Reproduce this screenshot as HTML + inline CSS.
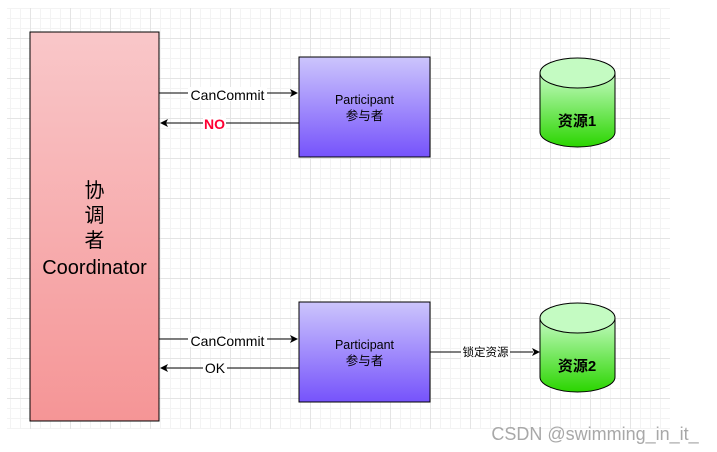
<!DOCTYPE html><html><head><meta charset="utf-8"><style>
body{margin:0;width:717px;height:452px;background:#fff;overflow:hidden;font-family:"Liberation Sans","Noto Sans CJK SC",sans-serif}
.grid{position:absolute;left:7px;top:8px;width:663px;height:421px;
background-image:linear-gradient(#e4e4e4 1px,transparent 1px),linear-gradient(90deg,#e4e4e4 1px,transparent 1px),linear-gradient(#f3f3f3 1px,transparent 1px),linear-gradient(90deg,#f3f3f3 1px,transparent 1px);
background-size:40px 40px,40px 40px,10px 10px,10px 10px;background-position:0 30px,23px 0,0 0,3px 0}
</style></head><body>
<div class="grid"></div>
<svg width="717" height="452" style="position:absolute;left:0;top:0" font-family="Liberation Sans, Noto Sans CJK SC, sans-serif">
<defs>
<linearGradient id="r" x1="0" y1="0" x2="0" y2="1"><stop offset="0" stop-color="#f9c7c9"/><stop offset="1" stop-color="#f59596"/></linearGradient>
<linearGradient id="b" x1="0" y1="0" x2="0" y2="1"><stop offset="0" stop-color="#ccc5fc"/><stop offset="1" stop-color="#7653fb"/></linearGradient>
<linearGradient id="g" x1="0" y1="0" x2="0" y2="1"><stop offset="0" stop-color="#c4fbc2"/><stop offset="1" stop-color="#2bd500"/></linearGradient>
</defs>
<rect x="30" y="32" width="129" height="389" fill="url(#r)" stroke="#000"/>
<text x="94.5" y="197" font-size="20" text-anchor="middle">协</text>
<text x="94.5" y="222" font-size="20" text-anchor="middle">调</text>
<text x="94.5" y="247" font-size="20" text-anchor="middle">者</text>
<text x="94.5" y="274" font-size="20" text-anchor="middle">Coordinator</text>
<g>
<rect x="299" y="57" width="131" height="100" fill="url(#b)" stroke="#000"/>
<text x="364.5" y="104" font-size="12.5" text-anchor="middle">Participant</text>
<text x="364.5" y="120" font-size="12.5" text-anchor="middle">参与者</text>
<rect x="299" y="302" width="131" height="100" fill="url(#b)" stroke="#000"/>
<text x="364.5" y="349" font-size="12.5" text-anchor="middle">Participant</text>
<text x="364.5" y="365" font-size="12.5" text-anchor="middle">参与者</text>
</g>
<g stroke="#000">
<path d="M540,73 V132 A37.5,15 0 0 0 615,132 V73" fill="url(#g)"/>
<ellipse cx="577.5" cy="73" rx="37.5" ry="15" fill="#c4fbc2"/>
<path d="M540,318 V377 A37.5,15 0 0 0 615,377 V318" fill="url(#g)"/>
<ellipse cx="577.5" cy="318" rx="37.5" ry="15" fill="#c4fbc2"/>
</g>
<text x="577" y="126" font-size="15" font-weight="bold" text-anchor="middle">资源1</text>
<text x="577" y="371" font-size="15" font-weight="bold" text-anchor="middle">资源2</text>
<g stroke="#000" stroke-width="1">
<line x1="159" y1="93" x2="292" y2="93"/><line x1="166" y1="123" x2="299" y2="123"/>
<line x1="159" y1="339" x2="292" y2="339"/><line x1="166" y1="368" x2="299" y2="368"/>
<line x1="430" y1="352" x2="533" y2="352"/>
</g>
<g fill="#000">
<path d="M298,93 l-8,-4 2,4 -2,4z"/><path d="M160,123 l8,-4 -2,4 2,4z"/>
<path d="M298,339 l-8,-4 2,4 -2,4z"/><path d="M160,368 l8,-4 -2,4 2,4z"/>
<path d="M540,352 l-8,-4 2,4 -2,4z"/>
</g>
<rect x="188" y="87" width="79" height="14" fill="#fff"/>
<text x="227.5" y="100" font-size="14" text-anchor="middle">CanCommit</text>
<rect x="203" y="116" width="23" height="14" fill="#fff"/>
<text x="214.5" y="129" font-size="14" font-weight="bold" fill="#ff0033" text-anchor="middle">NO</text>
<rect x="188" y="333" width="79" height="14" fill="#fff"/>
<text x="227.5" y="346" font-size="14" text-anchor="middle">CanCommit</text>
<rect x="203" y="361" width="24" height="14" fill="#fff"/>
<text x="215" y="373" font-size="14" text-anchor="middle">OK</text>
<rect x="461" y="345" width="49" height="14" fill="#fff"/>
<text x="485.5" y="356" font-size="11.5" text-anchor="middle">锁定资源</text>
<text x="595" y="440" font-size="18" fill="#a8a8a8" text-anchor="middle">CSDN @swimming_in_it_</text>
</svg>
</body></html>
